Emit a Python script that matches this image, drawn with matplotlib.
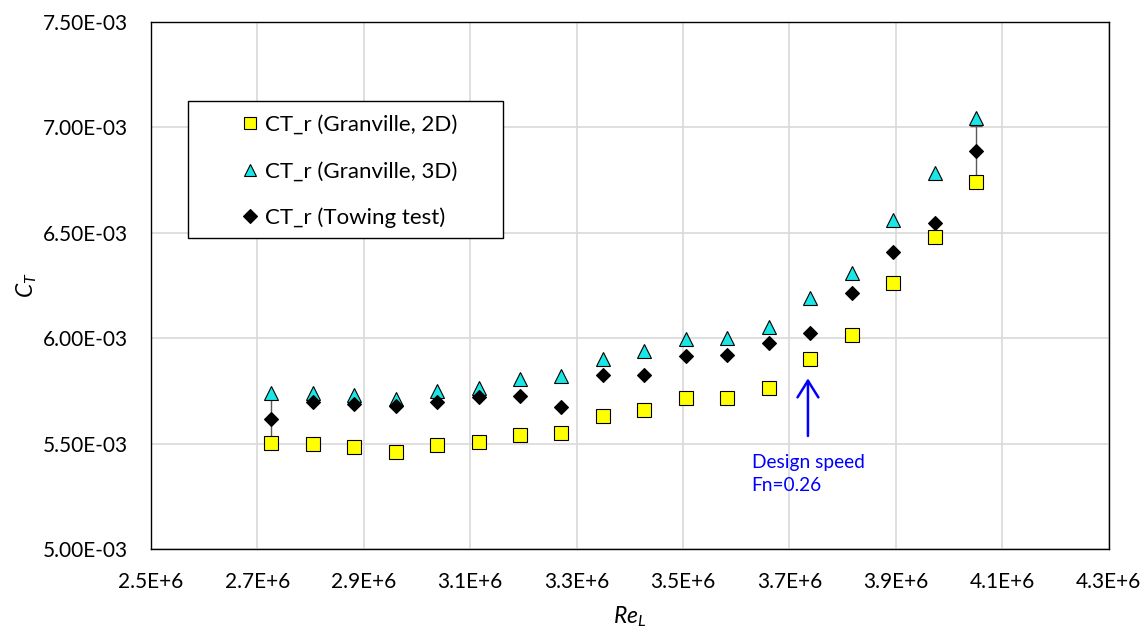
import numpy as np
import matplotlib
matplotlib.use("Agg")
import matplotlib.pyplot as plt
from matplotlib.ticker import FuncFormatter, MultipleLocator
from matplotlib.patches import Rectangle

plt.rcParams['font.family'] = ['Lato', 'DejaVu Sans']
plt.rcParams['mathtext.fontset'] = 'custom'
plt.rcParams['mathtext.rm'] = 'Lato'
plt.rcParams['mathtext.it'] = 'Lato:italic'

# Reynolds number of each run
re_l = [2.726e6, 2.804e6, 2.882e6, 2.960e6, 3.038e6, 3.116e6, 3.193e6, 3.271e6, 3.349e6,
        3.427e6, 3.505e6, 3.583e6, 3.661e6, 3.739e6, 3.817e6, 3.895e6, 3.973e6, 4.051e6]

# total resistance coefficient, in units of 1E-03
ct_2d = [5.505, 5.498, 5.486, 5.461, 5.493, 5.508, 5.540, 5.553, 5.632,
         5.661, 5.717, 5.716, 5.766, 5.900, 6.014, 6.263, 6.481, 6.740]
ct_3d = [5.742, 5.739, 5.731, 5.712, 5.749, 5.766, 5.806, 5.821, 5.904,
         5.941, 5.997, 6.000, 6.052, 6.189, 6.311, 6.560, 6.785, 7.042]
ct_tow = [5.619, 5.699, 5.688, 5.679, 5.697, 5.720, 5.728, 5.673, 5.826,
          5.826, 5.916, 5.919, 5.976, 6.026, 6.216, 6.407, 6.545, 6.887]
# uncertainty of the towing test (only first and last run)
tow_err = [0.097, 0, 0, 0, 0, 0, 0, 0, 0,
           0, 0, 0, 0, 0, 0, 0, 0, 0.119]

labels = ['CT_r (Granville, 2D)', 'CT_r (Granville, 3D)', 'CT_r (Towing test)']

x = np.array(re_l)
y2d = np.array(ct_2d) * 1e-3
y3d = np.array(ct_3d) * 1e-3
ytow = np.array(ct_tow) * 1e-3
err = np.array(tow_err) * 1e-3

fig = plt.figure(figsize=(11.48, 6.34), dpi=100)
ax = fig.add_axes([0.1315, 0.1336, 0.8341, 0.8322])

ax.set_xlim(2.5e6, 4.3e6)
ax.set_ylim(5.0e-3, 7.5e-3)
ax.xaxis.set_major_locator(MultipleLocator(0.2e6, offset=0.1e6))
ax.yaxis.set_major_locator(MultipleLocator(0.5e-3))
ax.xaxis.set_major_formatter(FuncFormatter(lambda v, p: f"{v/1e6:.1f}E+6"))
ax.yaxis.set_major_formatter(FuncFormatter(lambda v, p: f"{v*1e3:.2f}E-03"))
ax.grid(True, color='#d9d9d9', lw=1.2)
ax.set_axisbelow(True)
for s in ax.spines.values():
    s.set_linewidth(1.0)
    s.set_color('black')
ax.tick_params(axis='both', length=0, labelsize=15)
ax.tick_params(axis='y', pad=16.5)
ax.tick_params(axis='x', pad=16)

ax.set_xlabel(r'$Re_L$', fontsize=16.5, labelpad=9)
ax.set_ylabel(r'$C_T$', fontsize=16.5, labelpad=3)

# error bars on the towing test
idx = err > 0
ax.errorbar(x[idx], ytow[idx], yerr=err[idx], fmt='none', ecolor='#595959',
            elinewidth=1, capsize=4.5, capthick=1, zorder=2)

h1, = ax.plot(x, y2d, ls='none', marker='s', ms=9.6, mfc='#ffff00', mec='black', mew=0.8, zorder=3)
h2, = ax.plot(x, y3d, ls='none', marker='^', ms=9.8, mfc='#1ae6e6', mec='black', mew=0.8, zorder=3)
h3, = ax.plot(x, ytow, ls='none', marker='D', ms=7.6, mfc='black', mec='black', mew=0.8, zorder=4)

# legend frame drawn separately, entries centred like Excel
ax.add_patch(Rectangle((0.0386, 0.5906), 0.329, 0.2596, transform=ax.transAxes,
                       facecolor='white', edgecolor='black', lw=1.0, zorder=5))
ax.legend([h1, h2, h3], labels, loc='upper left', bbox_to_anchor=(0.0919, 0.823),
          frameon=False, fontsize=16, borderpad=0, borderaxespad=0, handlelength=1.0,
          handletextpad=0.15, labelspacing=1.18, markerscale=0.95).set_zorder(6)

# design speed marker
ax.annotate('', xy=(3.735e6, 5.810e-3), xytext=(3.735e6, 5.537e-3),
            arrowprops=dict(arrowstyle='->, head_length=0.4, head_width=0.25',
                            color='#0000ff', lw=1.8, mutation_scale=30,
                            shrinkA=0, shrinkB=0))
ax.text(3.629e6, 5.452e-3, 'Design speed\nFn=0.26', color='#0000ff', fontsize=13.8,
        ha='left', va='top', linespacing=1.4)

fig.savefig('out.png', dpi=100)
